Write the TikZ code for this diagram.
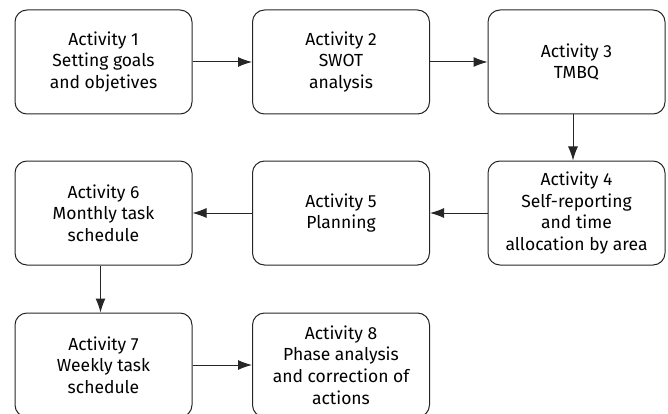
\documentclass[tikz,border=0pt]{standalone}
\usepackage{fontspec}
\setmainfont{Fira Sans}
\usetikzlibrary{arrows.meta}
\begin{document}
\begin{tikzpicture}[x=1pt,y=-1pt,
  actbox/.style={draw=black!85, line width=1pt, rounded corners=12pt,
    minimum width=177pt, minimum height=104pt, inner sep=0pt,
    align=center, font=\fontsize{17.5}{21.7}\selectfont},
  flow/.style={draw=black!85, line width=1pt, -{Latex[length=14pt,width=10pt]}}]
\useasboundingbox (0,0) rectangle (668,414);
\node[actbox] (a1) at (103.5,62) {Activity 1\\Setting goals\\and objetives};
\node[actbox] (a2) at (341,62) {Activity 2\\SWOT\\analysis};
\node[actbox] (a3) at (576.5,62) {Activity 3\\TMBQ};
\node[actbox] (a4) at (576.5,213) {Activity 4\\Self-reporting\\and time\\allocation by area};
\node[actbox] (a5) at (341,213) {Activity 5\\Planning};
\node[actbox] (a6) at (103.5,213) {Activity 6\\Monthly task\\schedule};
\node[actbox] (a7) at (103.5,365) {Activity 7\\Weekly task\\schedule};
\node[actbox] (a8) at (341,365) {Activity 8\\Phase analysis\\and correction of\\actions};
\draw[flow] (a1) -- (a2);
\draw[flow] (a2) -- (a3);
\draw[flow] ([xshift=-3.5pt]a3.south) -- ([xshift=-3.5pt]a4.north);
\draw[flow] (a4) -- (a5);
\draw[flow] (a5) -- (a6);
\draw[flow] ([xshift=-3pt]a6.south) -- ([xshift=-3pt]a7.north);
\draw[flow] (a7) -- (a8);
\end{tikzpicture}
\end{document}
